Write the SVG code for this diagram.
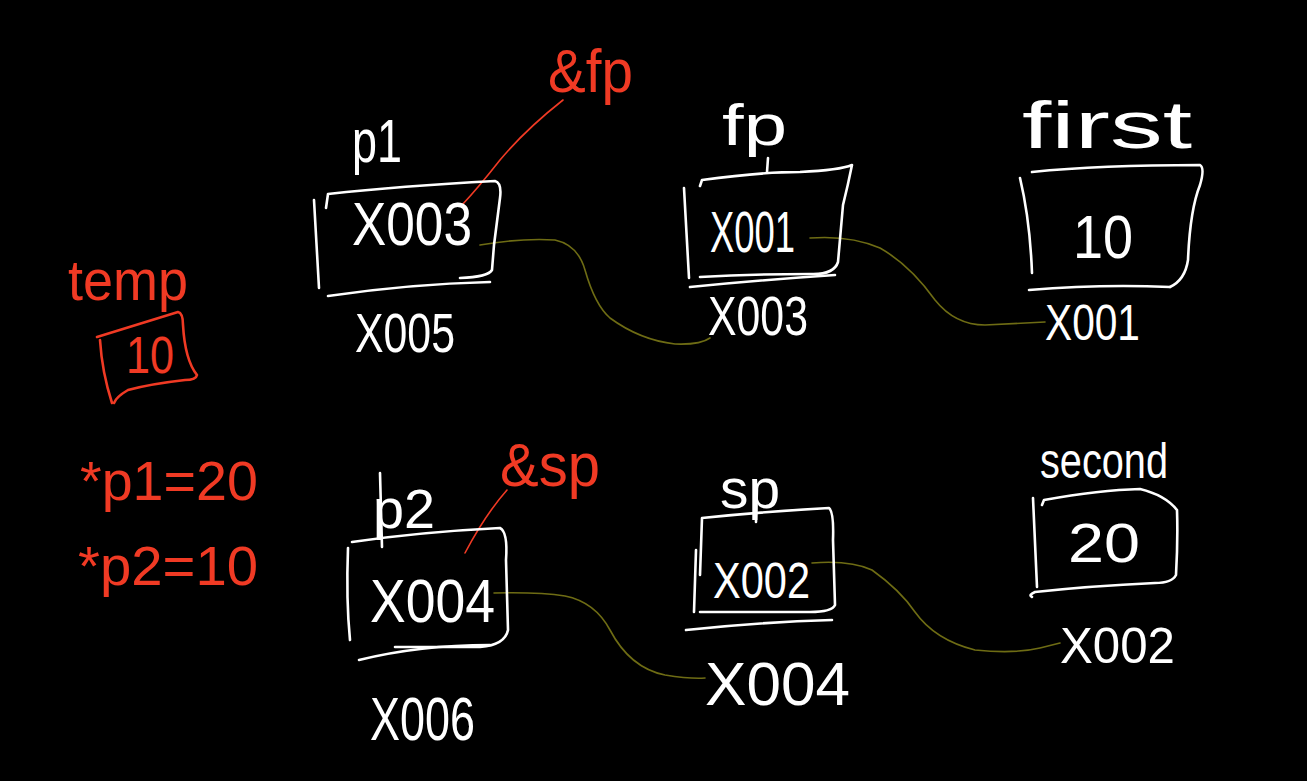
<svg xmlns="http://www.w3.org/2000/svg" width="1307" height="781" viewBox="0 0 1307 781">
<style>
.w{fill:#fff;font-family:"Liberation Sans",Arial,sans-serif;}
.r{fill:#f03a24;font-family:"Liberation Sans",Arial,sans-serif;}
.bw{fill:none;stroke:#fff;stroke-width:2.6;stroke-linecap:round;stroke-linejoin:round;}
.br{fill:none;stroke:#f03a24;stroke-width:2.6;stroke-linecap:round;stroke-linejoin:round;}
.lk{fill:none;stroke:#6e6c14;stroke-width:1.6;stroke-linecap:round;}
.rl{fill:none;stroke:#f03a24;stroke-width:1.6;stroke-linecap:round;}
</style>
<rect width="1307" height="781" fill="#000"/>

<g id="connectors">
<path class="lk" d="M480,245 Q520,238 555,240 Q578,245 585,270 Q595,305 610,318 Q640,340 675,344 Q700,345 710,338"/>
<path class="lk" d="M810,238 Q850,235 880,248 Q910,265 935,300 Q955,325 985,325 L1045,322"/>
<path class="lk" d="M494,593 Q540,592 565,596 Q595,602 610,630 Q630,668 665,675 Q690,679 705,678"/>
<path class="lk" d="M812,563 Q850,560 872,570 Q900,590 915,612 Q935,640 975,650 Q1015,654 1040,648 L1060,643"/>
<path class="rl" d="M563,100 Q525,130 500,160 Q478,188 462,205"/>
<path class="rl" d="M507,490 Q485,515 465,553"/>
</g>

<g id="temp">
<text class="r" x="68" y="300" font-size="58" textLength="120" lengthAdjust="spacingAndGlyphs">temp</text>
<path class="br" d="M97,337 L178,312 Q183,313 183,325 Q185,360 197,375 Q196,380 185,380 Q150,384 128,390 Q116,397 114,403"/>
<path class="br" d="M100,340 Q102,372 112,403"/>
<text class="r" x="126" y="373" font-size="52" textLength="48" lengthAdjust="spacingAndGlyphs">10</text>
</g>

<g id="eq1">
<text class="r" x="80" y="500" font-size="55" textLength="178" lengthAdjust="spacingAndGlyphs">*p1=20</text>
</g>
<g id="eq2">
<text class="r" x="78" y="585" font-size="55" textLength="180" lengthAdjust="spacingAndGlyphs">*p2=10</text>
</g>

<g id="p1">
<text class="w" x="352" y="162" font-size="62" textLength="50" lengthAdjust="spacingAndGlyphs">p1</text>
<path class="bw" d="M314,200 L319,288"/>
<path class="bw" d="M326,208 L328,194 Q400,186 495,181 Q502,183 500,198 L494,245 L492,270 Q488,277 460,278"/>
<path class="bw" d="M328,296 Q410,284 490,282"/>
<text class="w" x="352" y="245" font-size="62" textLength="120" lengthAdjust="spacingAndGlyphs">X003</text>
<text class="w" x="355" y="352" font-size="55" textLength="100" lengthAdjust="spacingAndGlyphs">X005</text>
</g>
<g id="amp-fp">
<text class="r" x="548" y="92" font-size="62" textLength="85" lengthAdjust="spacingAndGlyphs">&amp;fp</text>
</g>

<g id="fp">
<text class="w" x="722" y="145" font-size="58" textLength="65" lengthAdjust="spacingAndGlyphs">fp</text>
<path class="bw" d="M768,158 L767,172"/>
<path class="bw" d="M684,188 L689,278"/>
<path class="bw" d="M700,186 L702,180 Q760,172 800,172 Q840,170 852,165 Q848,185 843,205 L838,262 Q834,275 810,274 Q750,274 700,277"/>
<path class="bw" d="M690,287 Q760,280 835,275"/>
<text class="w" x="710" y="252" font-size="58" textLength="85" lengthAdjust="spacingAndGlyphs">X001</text>
<text class="w" x="708" y="335" font-size="55" textLength="100" lengthAdjust="spacingAndGlyphs">X003</text>
</g>

<g id="first">
<text class="w" x="1022" y="148" font-size="66" textLength="170" lengthAdjust="spacingAndGlyphs">first</text>
<path class="bw" d="M1020,178 Q1030,220 1032,273"/>
<path class="bw" d="M1032,172 Q1100,165 1200,165 Q1205,168 1200,185 Q1190,210 1188,260 Q1185,280 1170,287"/>
<path class="bw" d="M1029,290 Q1100,284 1170,287"/>
<text class="w" x="1073" y="258" font-size="62" textLength="60" lengthAdjust="spacingAndGlyphs">10</text>
<text class="w" x="1045" y="340" font-size="50" textLength="95" lengthAdjust="spacingAndGlyphs">X001</text>
</g>

<g id="p2">
<text class="w" x="373" y="528" font-size="55" textLength="62" lengthAdjust="spacingAndGlyphs">p2</text>
<path class="bw" d="M380,473 L382,547"/>
<path class="bw" d="M348,548 Q346,600 350,640"/>
<path class="bw" d="M352,542 Q420,532 500,528 Q508,532 506,560 L508,630 Q505,645 480,647 L395,647"/>
<path class="bw" d="M359,660 Q420,645 490,645"/>
<text class="w" x="370" y="622" font-size="62" textLength="125" lengthAdjust="spacingAndGlyphs">X004</text>
<text class="w" x="370" y="740" font-size="62" textLength="105" lengthAdjust="spacingAndGlyphs">X006</text>
</g>
<g id="amp-sp">
<text class="r" x="500" y="486" font-size="62" textLength="100" lengthAdjust="spacingAndGlyphs">&amp;sp</text>
</g>

<g id="sp">
<text class="w" x="720" y="508" font-size="55" textLength="60" lengthAdjust="spacingAndGlyphs">sp</text>
<path class="bw" d="M757,487 L756,522"/>
<path class="bw" d="M696,550 L694,612"/>
<path class="bw" d="M700,575 L702,518 Q760,512 829,508 Q834,512 833,540 L835,605 Q832,612 810,612 L700,612"/>
<path class="bw" d="M686,630 Q760,622 832,620"/>
<text class="w" x="713" y="598" font-size="50" textLength="97" lengthAdjust="spacingAndGlyphs">X002</text>
<text class="w" x="705" y="705" font-size="62" textLength="145" lengthAdjust="spacingAndGlyphs">X004</text>
</g>

<g id="second">
<text class="w" x="1040" y="478" font-size="50" textLength="128" lengthAdjust="spacingAndGlyphs">second</text>
<path class="bw" d="M1033,498 Q1035,540 1037,587"/>
<path class="bw" d="M1042,505 L1044,500 Q1100,490 1140,489 Q1165,495 1177,510 Q1178,540 1176,575 Q1172,583 1155,583 Q1090,586 1035,592 Q1028,595 1032,597"/>
<text class="w" x="1068" y="562" font-size="56" textLength="72" lengthAdjust="spacingAndGlyphs">20</text>
<text class="w" x="1060" y="663" font-size="50" textLength="115" lengthAdjust="spacingAndGlyphs">X002</text>
</g>
</svg>
